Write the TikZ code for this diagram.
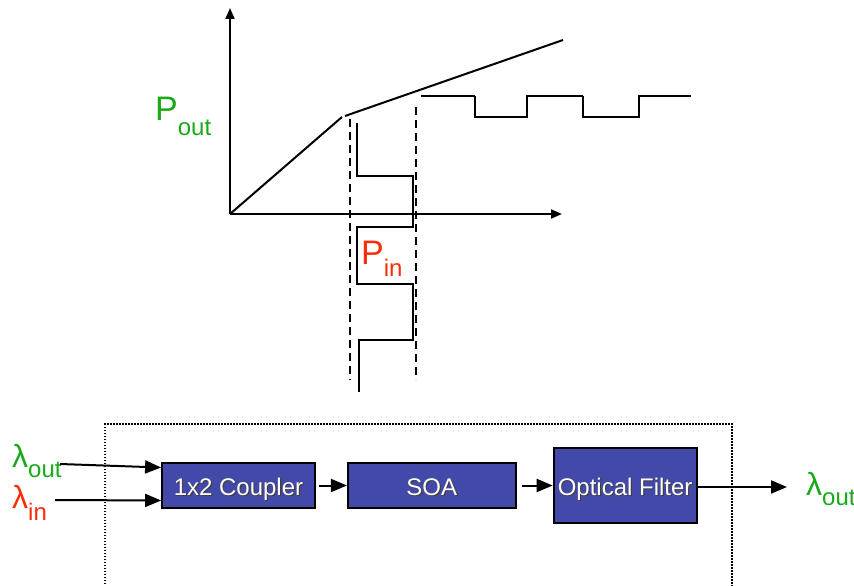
\documentclass[tikz,border=0pt]{standalone}
\usepackage{fontspec}
\setmainfont{Liberation Sans}
\usepackage{xcolor}
\usetikzlibrary{arrows.meta, positioning}
\definecolor{boxblue}{RGB}{67,73,168}
\definecolor{pgreen}{RGB}{25,170,25}
\definecolor{pred}{RGB}{250,45,10}
\newcommand{\subtxt}[3]{#1\raisebox{-#3}{\fontsize{24}{24}\selectfont #2}}
\newcommand{\shadtxt}[1]{\makebox[0pt][l]{\kern1.2pt\raisebox{-1.2pt}{\color{black!75}#1}}#1}

\begin{document}
\begin{tikzpicture}[x=1pt,y=-1pt,
  blk/.style={draw=black, line width=1.8pt, fill=boxblue, text=white,
    font=\fontsize{24}{26}\selectfont, inner sep=0pt, text height=19pt, text depth=0pt},
  flow/.style={line width=2pt, -{Triangle[length=16pt,width=13pt]}},
  axis/.style={line width=2pt, -{Triangle[length=11pt,width=9pt]}},
  wave/.style={line width=2pt},
  guide/.style={line width=2pt, dash pattern=on 8pt off 5pt},
  lbl/.style={anchor=base west, inner sep=0pt, font=\fontsize{34}{34}\selectfont}]
\useasboundingbox (0,0) rectangle (854,586);
% transfer curve
\coordinate (o) at (230,214);
\draw[axis] (o) -- (230,8);
\draw[axis] (o) -- (562,214);
\draw[wave] (o) -- (342,117);
\draw[wave] (345,116) -- (563,40);
\draw[guide] (350,119) -- (350,380);
\draw[guide] (416,107) -- (416,380);
% input and output pulses
\draw[wave] (357,123) -- (357,176) -- (413,176) -- (413,227) -- (357,227) -- (357,284)
  -- (413,284) -- (413,340) -- (359,340) -- (359,392);
\draw[wave] (421,96) -- (475,96);
\foreach \x/\u/\e in {475/527/583, 583/639/691}{
  \draw[wave] (\x,96) -- (\x,117) -- (\u,117) -- (\u,96) -- (\e,96);
}
\node[lbl, text=pgreen] (pout) at (155,121) {\subtxt{P}{out}{14pt}};
\node[lbl, text=pred] (pin) at (361,264) {\subtxt{P}{in}{12pt}};
% block diagram
\draw[line width=1.3pt, dash pattern=on 1.5pt off 1.5pt] (105,590) -- (105,424) -- (732,424) -- (732,590);
\node[blk, minimum width=153pt, minimum height=45pt] (coupler) at (238.5,485.5) {\shadtxt{1x2 Coupler}};
\node[blk, minimum width=168pt, minimum height=45pt, right=31pt of coupler] (soa) {\shadtxt{SOA}};
\node[blk, minimum width=143pt, minimum height=75pt, right=36pt of soa] (filter) {\shadtxt{Optical Filter}};
\node[lbl, text=pgreen, font=\fontsize{32}{32}\selectfont] (lamout) at (12,467) {\subtxt{λ}{out}{10pt}};
\node[lbl, text=pred, font=\fontsize{32}{32}\selectfont] (lamin) at (12,508) {\subtxt{λ}{in}{12pt}};
\node[lbl, text=pgreen, font=\fontsize{32}{32}\selectfont] (lamres) at (806,495) {\subtxt{λ}{out}{10pt}};
\coordinate (fromout) at (60,464);
\coordinate (fromin) at (55,500);
\coordinate (tores) at (787,487);
\draw[flow] (fromout) -- ([yshift=18pt]coupler.west);
\draw[flow] (fromin) -- ([yshift=-15pt]coupler.west);
\draw[flow, shorten <=3pt] (coupler) -- (soa);
\draw[flow, shorten <=5pt] (soa) -- (filter);
\draw[flow] (filter.east |- tores) -- (tores);
\end{tikzpicture}
\end{document}
